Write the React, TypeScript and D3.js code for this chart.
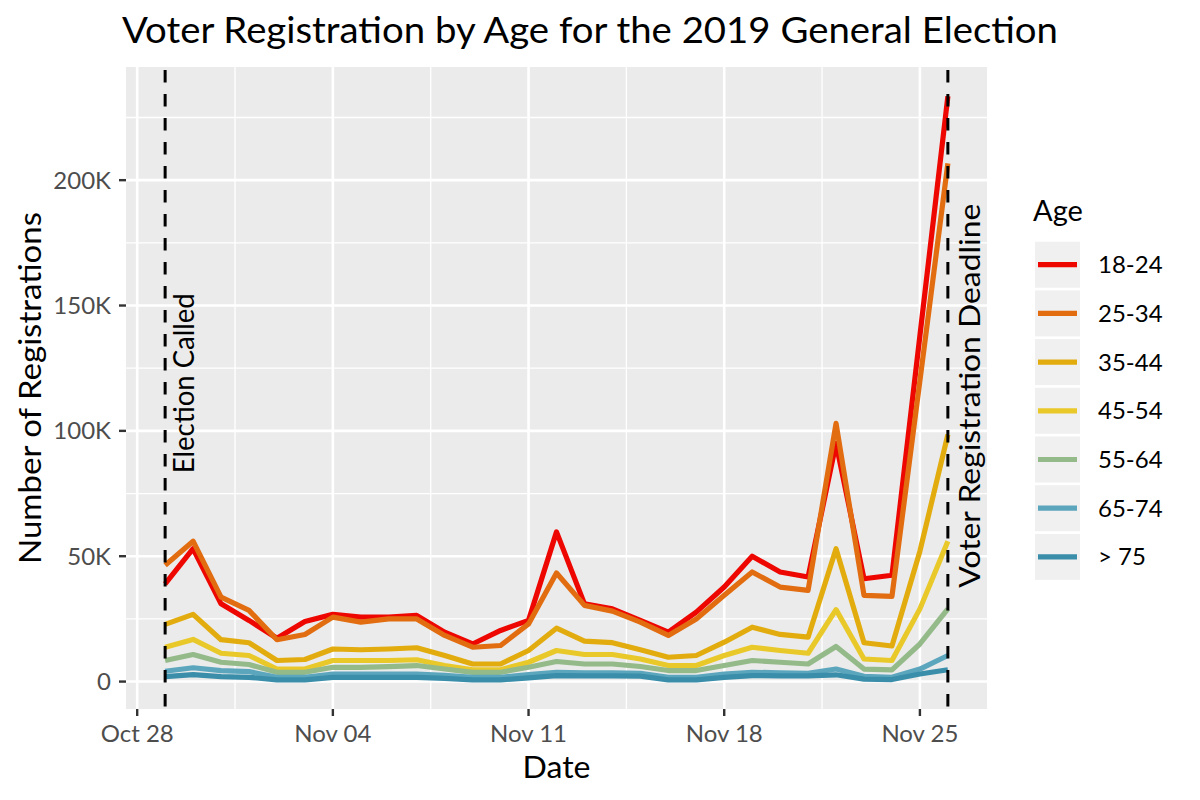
import React from "react";
import * as d3 from "d3";

const W = 1200;
const H = 800;

const startDate = new Date(Date.UTC(2019, 9, 29));
const dayCount = 29;
const dates: Date[] = d3.range(dayCount).map((i) => d3.utcDay.offset(startDate, i));

const ageGroups = ["18-24", "25-34", "35-44", "45-54", "55-64", "65-74", "> 75"];
const ageColors = ["#EE0700", "#E26C10", "#E2AC0E", "#E9C82A", "#94BA89", "#5CA6BD", "#3A8EAA"];

// thousands of registrations, Oct 29 .. Nov 26
const s18_24 = [39, 53, 31, 24.4, 17.3, 24, 26.8, 25.7, 25.7, 26.4, 19.7, 15, 20.4, 24.4, 59.7, 31, 29, 24.4, 19.7, 27.7, 37.7, 50, 43.7, 41.7, 95, 41, 42.4, 138, 233.5];
const s25_34 = [46.4, 56, 33.7, 28.4, 16.7, 18.8, 25.7, 23.7, 25, 25, 18.4, 13.7, 14.4, 23, 43.3, 30.4, 28.1, 23.7, 18.4, 25, 34.4, 43.7, 37.7, 36.4, 103, 34.4, 34, 120, 206.7];
const s35_44 = [22.8, 26.8, 16.7, 15.5, 8.4, 8.8, 13, 12.7, 13, 13.5, 10.4, 7, 7, 12.4, 21.3, 16.1, 15.5, 12.7, 9.7, 10.4, 15.7, 21.7, 18.8, 17.7, 53, 15.5, 14.2, 52, 98.5];
const s45_54 = [13.7, 16.8, 11.3, 10.4, 5, 5, 8.4, 8.4, 8.4, 8.7, 6.4, 4.7, 4.7, 7.7, 12.4, 10.8, 10.8, 9, 6.4, 6.4, 10.4, 13.7, 12.4, 11.3, 28.7, 9, 8.4, 29, 56];
const s55_64 = [8.4, 10.8, 7.7, 6.8, 3.7, 3.7, 5.7, 5.7, 6, 6.4, 5, 3.7, 3.7, 5.7, 8, 7, 7, 6, 4.4, 4.4, 6.4, 8.4, 7.7, 7, 14, 5, 4.7, 15, 29];
const s65_74 = [4.1, 5.5, 4.4, 4, 1.7, 1.7, 3, 3, 3, 3, 2.5, 1.7, 1.7, 2.8, 3.7, 3.5, 3.5, 3.3, 1.7, 1.7, 3, 3.7, 3.5, 3.3, 5, 2.1, 1.7, 5, 10.4];
const s75 = [2, 2.8, 2, 1.7, 0.7, 0.7, 1.7, 1.7, 1.7, 1.7, 1.3, 0.7, 0.7, 1.5, 2.4, 2.3, 2.3, 2.2, 0.7, 0.7, 1.7, 2.4, 2.3, 2.3, 2.7, 1, 0.8, 3, 4.7];
const seriesValues = [s18_24, s25_34, s35_44, s45_54, s55_64, s65_74, s75];

const yTicks = [0, 50, 100, 150, 200];
const yTickLabels = ["0", "50K", "100K", "150K", "200K"];
const yMinor = [25, 75, 125, 175, 225];
const xTickDates = [
  new Date(Date.UTC(2019, 9, 28)),
  new Date(Date.UTC(2019, 10, 4)),
  new Date(Date.UTC(2019, 10, 11)),
  new Date(Date.UTC(2019, 10, 18)),
  new Date(Date.UTC(2019, 10, 25)),
];
const eventDates = [new Date(Date.UTC(2019, 9, 29)), new Date(Date.UTC(2019, 10, 26))];
const eventLabels = ["Election Called", "Voter Registration Deadline"];
const eventLabelY = [119, 114];
const eventLabelLen = [180, 384];

const FONT = "Lato, 'Open Sans', sans-serif";

export default function App() {
  const panel = { left: 126, right: 987, top: 67, bottom: 709 };

  const t0 = dates[0].getTime();
  const t1 = dates[dates.length - 1].getTime();
  const tPad = (t1 - t0) * 0.05;
  const x = d3
    .scaleUtc()
    .domain([new Date(t0 - tPad), new Date(t1 + tPad)])
    .range([panel.left, panel.right]);

  const all = seriesValues.flat();
  const yMin = d3.min(all)!;
  const yMax = d3.max(all)!;
  const yPad = (yMax - yMin) * 0.05;
  const y = d3.scaleLinear().domain([yMin - yPad, yMax + yPad]).range([panel.bottom, panel.top]);

  const xMinor = xTickDates
    .map((d) => new Date(d.getTime() + 3.5 * 86400000))
    .concat([new Date(xTickDates[0].getTime() - 3.5 * 86400000)])
    .filter((d) => x(d) > panel.left && x(d) < panel.right);

  const line = d3
    .line<number>()
    .x((_, i) => x(dates[i]))
    .y((v) => y(v))
    .curve(d3.curveLinear);

  const fmt = d3.utcFormat("%b %d");

  const legendX = 1035;
  const legendTop = 241.7;
  const keyPitch = 48.7;
  const keyW = 45;
  const keyH = 46;
  const lw = 5.2;

  return (
    <svg
      width={W}
      height={H}
      style={{ position: "absolute", left: 0, top: 0, background: "#ffffff" }}
      fontFamily={FONT}
    >
      <rect x={0} y={0} width={W} height={H} fill="#ffffff" />
      <defs>
        <clipPath id="panelClip">
          <rect x={panel.left} y={panel.top} width={panel.right - panel.left} height={panel.bottom - panel.top} />
        </clipPath>
      </defs>
      {/* title */}
      <text x={122} y={43} fontSize={37} fill="#000" textLength={936} lengthAdjust="spacingAndGlyphs">
        Voter Registration by Age for the 2019 General Election
      </text>

      {/* panel */}
      <rect
        x={panel.left}
        y={panel.top}
        width={panel.right - panel.left}
        height={panel.bottom - panel.top}
        fill="#EBEBEB"
      />
      <g clipPath="url(#panelClip)">
        {yMinor.map((v) => (
          <line key={"ym" + v} x1={panel.left} x2={panel.right} y1={y(v)} y2={y(v)} stroke="#fff" strokeWidth={1.3} />
        ))}
        {xMinor.map((d, i) => (
          <line key={"xm" + i} x1={x(d)} x2={x(d)} y1={panel.top} y2={panel.bottom} stroke="#fff" strokeWidth={1.3} />
        ))}
        {yTicks.map((v) => (
          <line key={"yM" + v} x1={panel.left} x2={panel.right} y1={y(v)} y2={y(v)} stroke="#fff" strokeWidth={2.6} />
        ))}
        {xTickDates.map((d, i) => (
          <line key={"xM" + i} x1={x(d)} x2={x(d)} y1={panel.top} y2={panel.bottom} stroke="#fff" strokeWidth={2.6} />
        ))}
      </g>

      {/* series */}
      <g clipPath="url(#panelClip)">
        {seriesValues.map((vals, k) => (
          <path
            key={ageGroups[k]}
            d={line(vals) || ""}
            fill="none"
            stroke={ageColors[k]}
            strokeWidth={lw}
            strokeLinejoin="round"
            strokeLinecap="butt"
          />
        ))}
      </g>

      {/* event lines */}
      {eventDates.map((d, i) => (
        <line
          key={"ev" + i}
          x1={x(d)}
          x2={x(d)}
          y1={panel.top}
          y2={panel.bottom}
          stroke="#000"
          strokeWidth={3}
          strokeDasharray="12.5 11.5"
          strokeDashoffset={21}
        />
      ))}
      {eventDates.map((d, i) => (
        <text
          key={"evl" + i}
          transform={`translate(${x(d) + 29 + i * 3},${y(eventLabelY[i])}) rotate(-90)`}
          textAnchor="middle"
          fontSize={28}
          fill="#000"
          textLength={eventLabelLen[i]}
          lengthAdjust="spacingAndGlyphs"
        >
          {eventLabels[i]}
        </text>
      ))}

      {/* y axis */}
      {yTicks.map((v, i) => (
        <g key={"yt" + v}>
          <line x1={panel.left - 7} x2={panel.left} y1={y(v)} y2={y(v)} stroke="#333" strokeWidth={2.4} />
          <text x={panel.left - 15} y={y(v) + 8.5} textAnchor="end" fontSize={24} fill="#4D4D4D">
            {yTickLabels[i]}
          </text>
        </g>
      ))}
      {/* x axis */}
      {xTickDates.map((d, i) => (
        <g key={"xt" + i}>
          <line x1={x(d)} x2={x(d)} y1={panel.bottom} y2={panel.bottom + 7} stroke="#333" strokeWidth={2.4} />
          <text x={x(d)} y={panel.bottom + 33} textAnchor="middle" fontSize={24} fill="#4D4D4D">
            {fmt(d)}
          </text>
        </g>
      ))}

      {/* axis titles */}
      <text x={(panel.left + panel.right) / 2} y={778} textAnchor="middle" fontSize={30} fill="#000" textLength={68} lengthAdjust="spacingAndGlyphs">
        Date
      </text>
      <text
        transform={`translate(${41},${(panel.top + panel.bottom) / 2}) rotate(-90)`}
        textAnchor="middle"
        fontSize={30}
        fill="#000"
        textLength={352}
        lengthAdjust="spacingAndGlyphs"
      >
        Number of Registrations
      </text>

      {/* legend */}
      <text x={1033} y={221} fontSize={29} fill="#000">
        Age
      </text>
      {ageGroups.map((g, k) => {
        const top = legendTop + k * keyPitch;
        const cy = top + keyH / 2;
        return (
          <g key={"lg" + g}>
            <rect x={legendX} y={top} width={keyW} height={keyH} fill="#F0F0F0" />
            <line x1={legendX + 3} x2={legendX + keyW - 3} y1={cy} y2={cy} stroke={ageColors[k]} strokeWidth={lw} />
            <text x={1098} y={cy + 8.5} fontSize={24} fill="#000">
              {g}
            </text>
          </g>
        );
      })}
    </svg>
  );
}
